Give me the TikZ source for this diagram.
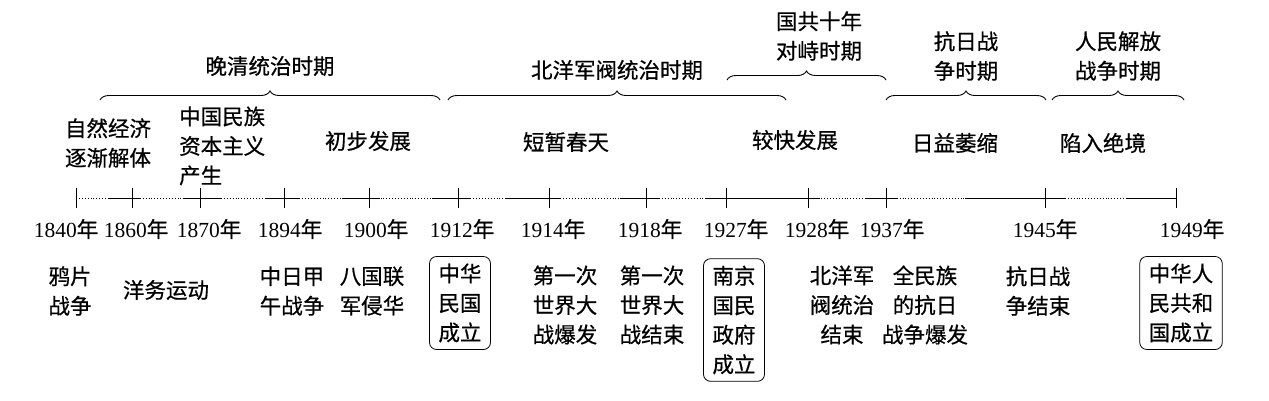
\documentclass[tikz,border=0pt]{standalone}
\usepackage{fontspec}
\setmainfont{Liberation Serif}
\newfontfamily\cjk[FakeBold=0.6]{Noto Sans CJK SC}
\usetikzlibrary{decorations.pathreplacing}
\begin{document}
\begin{tikzpicture}[x=1pt,y=-1pt,
 t/.style={font=\cjk\fontsize{21.5}{29.5}\selectfont,align=center,inner sep=1pt},
 yr/.style={font=\fontsize{21.5}{24}\selectfont,inner sep=0pt},
 bx/.style={t,draw,rounded corners=7pt,inner xsep=9pt,inner ysep=7pt,line width=0.8pt},
 br/.style={decorate,decoration={brace,amplitude=9pt},line width=0.9pt},
 tk/.style={line width=0.9pt}]
\useasboundingbox (0,0) rectangle (1269,400);
% axis
\draw[line width=0.9pt,dotted] (76,198) -- (1176,198);
\foreach \a/\b in {108/140,183/222,265/300,342/380,432/470,505/560,620/660,705/820,865/897,965/1065,1127/1176}
  \draw[tk] (\a,198) -- (\b,198);
\foreach \x/\y [count=\i] in {76/1840,132/1860,200/1870,284/1894,369/1900,458/1912,549/1914,646/1918,726/1927,808/1928,886/1937,1045/1945,1176/1949}{
  \coordinate (k\i) at (\x,198);
  \draw[tk] (\x,188) -- (\x,208);
}
\foreach \x/\y [count=\i] in {66/1840,136/1860,209/1870,290/1894,376/1900,462/1912,553/1914,650/1918,736/1927,817/1928,892/1937,1045/1945,1192/1949}
  \node[yr] (y\i) at (\x,229) {\y{\cjk 年}};
% braces
\draw[br] (100,100) -- (440,100);
\draw[br] (448,100) -- (786,100);
\draw[br] (727,80) -- (886,80);
\draw[br] (886,100) -- (1046,100);
\draw[br] (1052,100) -- (1184,100);
\node[t] (p1) at (270,66) {晚清统治时期};
\node[t] (p2) at (617,70) {北洋军阀统治时期};
\node[t] (p3) at (819,36) {国共十年\\对峙时期};
\node[t] (p4) at (966,56) {抗日战\\争时期};
\node[t] (p5) at (1118,56) {人民解放\\战争时期};
% stages
\node[t] (s1) at (108,143) {自然经济\\逐渐解体};
\node[t,align=left,anchor=west] (s2) at (178,146) {中国民族\\资本主义\\产生};
\node[t] (s3) at (368,141) {初步发展};
\node[t] (s4) at (566,142) {短暂春天};
\node[t] (s5) at (795,140) {较快发展};
\node[t] (s6) at (955,143) {日益萎缩};
\node[t] (s7) at (1103,143) {陷入绝境};
% events
\node[t] (e1) at (70,291) {鸦片\\战争};
\node[t] (e2) at (166,290) {洋务运动};
\node[t] (e3) at (292,291) {中日甲\\午战争};
\node[t] (e4) at (372,291) {八国联\\军侵华};
\node[bx] (e5) at (460,303) {中华\\民国\\成立};
\node[t] (e6) at (565,305) {第一次\\世界大\\战爆发};
\node[t] (e7) at (652,305) {第一次\\世界大\\战结束};
\node[bx] (e8) at (734,320) {南京\\国民\\政府\\成立};
\node[t] (e9) at (842,305) {北洋军\\阀统治\\结束};
\node[t] (e10) at (925,305) {全民族\\的抗日\\战争爆发};
\node[t] (e11) at (1038,291) {抗日战\\争结束};
\node[bx] (e12) at (1181,303) {中华人\\民共和\\国成立};
\end{tikzpicture}
\end{document}
